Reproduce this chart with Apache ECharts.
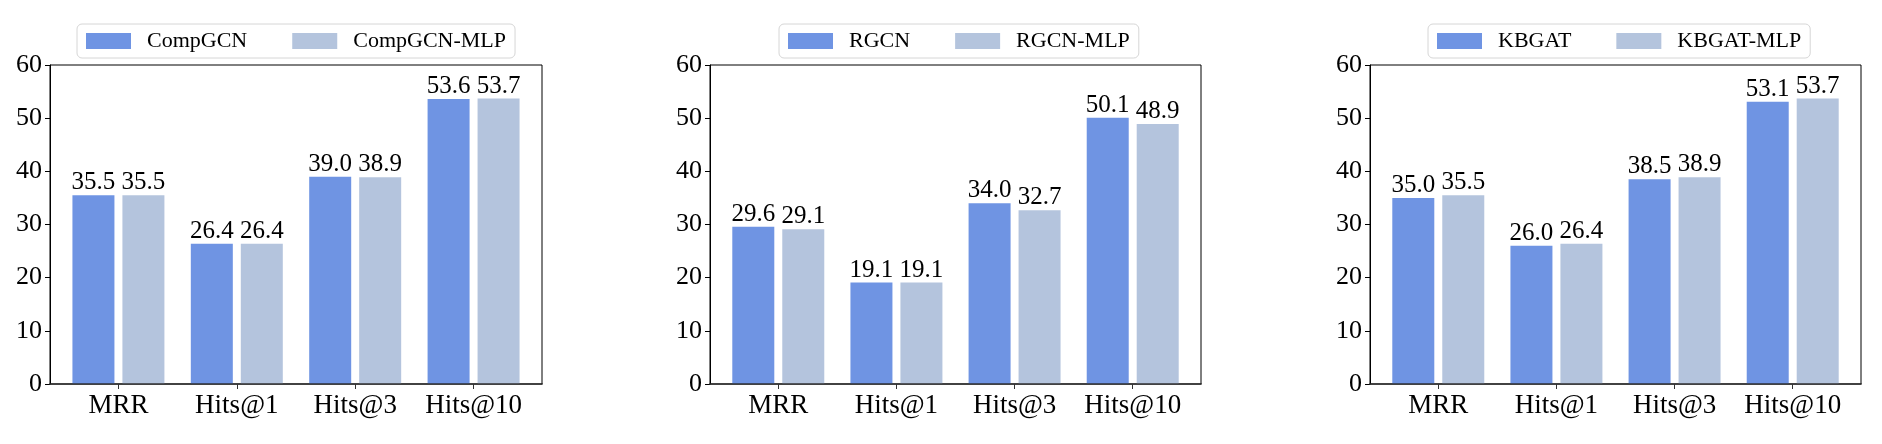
<!DOCTYPE html>
<html>
<head>
<meta charset="utf-8">
<script src="https://cdn.jsdelivr.net/npm/echarts@6/dist/echarts.min.js"></script>
<style>html,body{margin:0;padding:0;background:#fff}#c{width:1882px;height:444px}</style>
</head>
<body>
<div id="c"></div>
<script>
const categories = ['MRR', 'Hits@1', 'Hits@3', 'Hits@10'];
const yTicks = [0, 10, 20, 30, 40, 50, 60];

const compgcn = [35.5, 26.4, 39.0, 53.6];
const compgcnMLP = [35.5, 26.4, 38.9, 53.7];
const rgcn = [29.6, 19.1, 34.0, 50.1];
const rgcnMLP = [29.1, 19.1, 32.7, 48.9];
const kbgat = [35.0, 26.0, 38.5, 53.1];
const kbgatMLP = [35.5, 26.4, 38.9, 53.7];

const panels = [
  { names: ['CompGCN', 'CompGCN-MLP'], a: compgcn, b: compgcnMLP },
  { names: ['RGCN', 'RGCN-MLP'], a: rgcn, b: rgcnMLP },
  { names: ['KBGAT', 'KBGAT-MLP'], a: kbgat, b: kbgatMLP }
];

const FONT = '"Liberation Serif", "Times New Roman", serif';
const BLUE = '#6F94E3';
const LIGHT = '#B4C4DD';
const gridLefts = [50, 710, 1370];
const gridWidths = [492, 491, 491];
const legendLefts = [77, 779, 1428];
const idx = categories.map((c, i) => i);

const option = {
  animation: false,
  backgroundColor: '#fff',
  grid: [], xAxis: [], yAxis: [], legend: [], series: []
};

panels.forEach((p, k) => {
  option.grid.push({
    left: gridLefts[k], width: gridWidths[k], top: 65, height: 319,
    show: true, borderColor: '#000', borderWidth: 1, backgroundColor: 'transparent'
  });
  option.xAxis.push({
    type: 'value', gridIndex: k, min: -0.578, max: 3.578, z: 5,
    splitLine: { show: false },
    axisLine: { show: true, onZero: false, lineStyle: { color: 'rgba(40,40,40,0.7)', width: 2 } },
    axisTick: { show: true, customValues: idx, length: 5, lineStyle: { color: '#333', width: 1 } },
    axisLabel: {
      customValues: idx, margin: 8,
      formatter: v => categories[Math.round(v)],
      fontFamily: FONT, fontSize: 27, color: '#000'
    }
  });
  option.yAxis.push({
    type: 'value', gridIndex: k, min: 0, max: 60, interval: 10,
    splitLine: { show: false },
    axisLine: { show: true, onZero: false, lineStyle: { color: '#000', width: 1 } },
    axisTick: { show: true, length: 5, lineStyle: { color: '#000', width: 1 } },
    axisLabel: {
      margin: 8, fontFamily: FONT, fontSize: 26, color: '#000',
      customValues: yTicks
    }
  });
  option.legend.push({
    left: legendLefts[k], top: 24, orient: 'horizontal',
    data: p.names, icon: 'rect', itemWidth: 45, itemHeight: 16, itemGap: 45,
    padding: [6, 9, 6, 9],
    borderColor: '#d6d6d6', borderWidth: 1, borderRadius: 5, backgroundColor: '#fff',
    textStyle: { fontFamily: FONT, fontSize: 22, color: '#000', padding: [0, 0, 0, 11] },
    selectedMode: false
  });
  const lbl = {
    show: true, position: 'top', distance: 0,
    fontFamily: FONT, fontSize: 25, color: '#000',
    formatter: d => d.value[1].toFixed(1)
  };
  option.series.push({
    name: p.names[0], type: 'bar', xAxisIndex: k, yAxisIndex: k,
    barWidth: 42, barGap: '19%',
    itemStyle: { color: BLUE }, label: lbl,
    data: p.a.map((v, i) => [idx[i], v])
  });
  option.series.push({
    name: p.names[1], type: 'bar', xAxisIndex: k, yAxisIndex: k,
    barWidth: 42, barGap: '19%',
    itemStyle: { color: LIGHT }, label: lbl,
    data: p.b.map((v, i) => [idx[i], v])
  });
});

const chart = echarts.init(document.getElementById('c'), null, { renderer: 'canvas' });
chart.setOption(option);
</script>
</body>
</html>
